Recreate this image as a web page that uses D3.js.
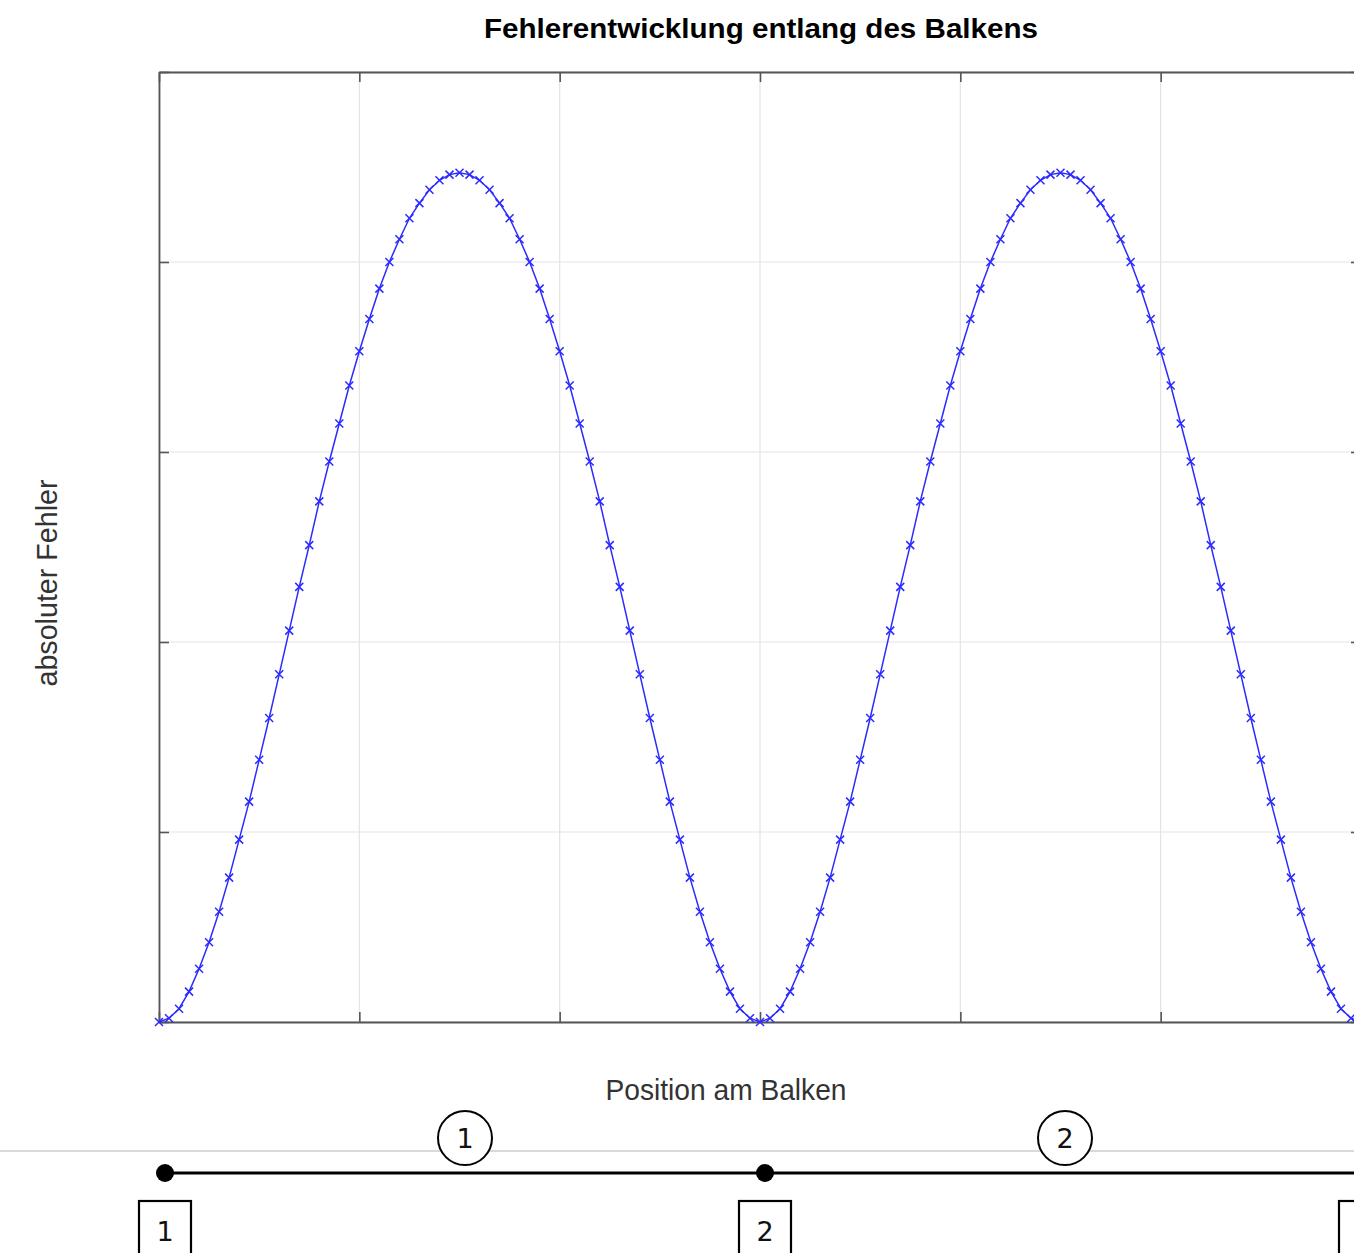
<!DOCTYPE html>
<html>
<head>
<meta charset="utf-8">
<script src="https://cdn.jsdelivr.net/npm/d3@7"></script>
<style>
  html, body { margin: 0; padding: 0; background: #fff; }
  svg { display: block; }
</style>
</head>
<body>
<svg id="chart"></svg>
<script>
// values (y units = grid steps, no tick labels shown)
const sampleStep = 0.05;
const errorElement1 = [
  0, 0.02, 0.07, 0.16, 0.28, 0.42, 0.58, 0.76, 0.96, 1.16,
  1.38, 1.60, 1.83, 2.06, 2.29, 2.51, 2.74, 2.95, 3.15, 3.35,
  3.53, 3.70, 3.86, 4.00, 4.12, 4.23, 4.31, 4.38, 4.43, 4.46,
  4.47, 4.46, 4.43, 4.38, 4.31, 4.23, 4.12, 4.00, 3.86, 3.70,
  3.53, 3.35, 3.15, 2.95, 2.74, 2.51, 2.29, 2.06, 1.83, 1.60,
  1.38, 1.16, 0.96, 0.76, 0.58, 0.42, 0.28, 0.16, 0.07, 0.02
];
const errorElement2 = [
  0, 0.02, 0.07, 0.16, 0.28, 0.42, 0.58, 0.76, 0.96, 1.16,
  1.38, 1.60, 1.83, 2.06, 2.29, 2.51, 2.74, 2.95, 3.15, 3.35,
  3.53, 3.70, 3.86, 4.00, 4.12, 4.23, 4.31, 4.38, 4.43, 4.46,
  4.47, 4.46, 4.43, 4.38, 4.31, 4.23, 4.12, 4.00, 3.86, 3.70,
  3.53, 3.35, 3.15, 2.95, 2.74, 2.51, 2.29, 2.06, 1.83, 1.60,
  1.38, 1.16, 0.96, 0.76, 0.58, 0.42, 0.28, 0.16, 0.07, 0.02, 0
];
const xTicks = [0, 1, 2, 3, 4, 5, 6];
const yTicks = [0, 1, 2, 3, 4, 5];
const nodePositions = [0, 3, 6];
const nodeLabels = ['1', '2']; // third node box is cut off at the edge
const elementLabels = ['1', '2'];

const W = 1354, H = 1253;
const plot = {left: 159, right: 1361, top: 72, bottom: 1022};

const points = errorElement1.concat(errorElement2)
  .map((v, i) => ({x: i * sampleStep, y: v}));

const svg = d3.select('#chart').attr('width', W).attr('height', H);

const x = d3.scaleLinear().domain([0, 6]).range([plot.left, plot.right]);
const y = d3.scaleLinear().domain([0, 5]).range([plot.bottom, plot.top]);

// grid
svg.append('g').selectAll('line').data(xTicks).join('line')
  .attr('x1', d => x(d)).attr('x2', d => x(d))
  .attr('y1', plot.top).attr('y2', plot.bottom)
  .attr('stroke', '#e3e3e3').attr('stroke-width', 1.2);
svg.append('g').selectAll('line').data(yTicks).join('line')
  .attr('x1', plot.left).attr('x2', plot.right)
  .attr('y1', d => y(d)).attr('y2', d => y(d))
  .attr('stroke', '#e3e3e3').attr('stroke-width', 1.2);

// box axes with inward ticks, no labels
const axisStyle = g => {
  g.selectAll('path.domain').attr('stroke', '#555').attr('stroke-width', 1.8);
  g.selectAll('.tick line').attr('stroke', '#555').attr('stroke-width', 1.6);
  g.selectAll('.tick text').remove();
};
svg.append('g').attr('transform', `translate(0,${plot.bottom})`)
  .call(d3.axisBottom(x).tickValues(xTicks).tickSize(-10).tickSizeOuter(0)).call(axisStyle);
svg.append('g').attr('transform', `translate(0,${plot.top})`)
  .call(d3.axisTop(x).tickValues(xTicks).tickSize(-10).tickSizeOuter(0)).call(axisStyle);
svg.append('g').attr('transform', `translate(${plot.left},0)`)
  .call(d3.axisLeft(y).tickValues(yTicks).tickSize(-10).tickSizeOuter(0)).call(axisStyle);
svg.append('g').attr('transform', `translate(${plot.right},0)`)
  .call(d3.axisRight(y).tickValues(yTicks).tickSize(-10).tickSizeOuter(0)).call(axisStyle);

// error curve
const line = d3.line().x(d => x(d.x)).y(d => y(d.y));
svg.append('path').datum(points)
  .attr('d', line)
  .attr('fill', 'none')
  .attr('stroke', '#2b2bff')
  .attr('stroke-width', 1.5);

const m = 4;
svg.append('g').selectAll('path').data(points).join('path')
  .attr('d', d => {
    const cx = x(d.x), cy = y(d.y);
    return `M${cx - m},${cy - m}L${cx + m},${cy + m}M${cx - m},${cy + m}L${cx + m},${cy - m}`;
  })
  .attr('stroke', '#2b2bff')
  .attr('stroke-width', 1.5)
  .attr('fill', 'none');

// texts
svg.append('text')
  .attr('x', 761).attr('y', 38)
  .attr('text-anchor', 'middle')
  .attr('textLength', 554).attr('lengthAdjust', 'spacingAndGlyphs')
  .style('font', 'bold 27px "Liberation Sans", Arial, sans-serif')
  .attr('fill', '#000')
  .text('Fehlerentwicklung entlang des Balkens');

svg.append('text')
  .attr('x', 726).attr('y', 1100)
  .attr('text-anchor', 'middle')
  .attr('textLength', 241).attr('lengthAdjust', 'spacingAndGlyphs')
  .style('font', '30px "Liberation Sans", Arial, sans-serif')
  .attr('fill', '#333')
  .text('Position am Balken');

svg.append('text')
  .attr('transform', 'translate(57,583) rotate(-90)')
  .attr('text-anchor', 'middle')
  .attr('textLength', 207).attr('lengthAdjust', 'spacingAndGlyphs')
  .style('font', '30px "Liberation Sans", Arial, sans-serif')
  .attr('fill', '#333')
  .text('absoluter Fehler');

// beam sketch below the plot
const bx = d3.scaleLinear().domain([0, 6]).range([165, 1365]);
const beamY = 1173;

svg.append('line')
  .attr('x1', 0).attr('x2', W).attr('y1', 1151).attr('y2', 1151)
  .attr('stroke', '#d9d9d9').attr('stroke-width', 2);

svg.append('line')
  .attr('x1', bx(nodePositions[0])).attr('x2', bx(nodePositions[nodePositions.length - 1]))
  .attr('y1', beamY).attr('y2', beamY)
  .attr('stroke', '#000').attr('stroke-width', 3);

svg.append('g').selectAll('circle').data(nodePositions).join('circle')
  .attr('cx', d => bx(d)).attr('cy', beamY).attr('r', 9).attr('fill', '#000');

const elements = elementLabels.map((l, i) => ({
  label: l,
  pos: (nodePositions[i] + nodePositions[i + 1]) / 2
}));
const el = svg.append('g').selectAll('g').data(elements).join('g')
  .attr('transform', d => `translate(${bx(d.pos)},1138)`);
el.append('ellipse').attr('rx', 27).attr('ry', 27)
  .attr('fill', '#fff').attr('stroke', '#000').attr('stroke-width', 2);
el.append('text').attr('y', 10).attr('text-anchor', 'middle')
  .style('font', '27px "DejaVu Sans", sans-serif').attr('fill', '#111')
  .text(d => d.label);

const nd = svg.append('g').selectAll('g').data(nodePositions).join('g')
  .attr('transform', d => `translate(${bx(d)},1201)`);
nd.append('rect').attr('x', -26).attr('y', 0).attr('width', 52).attr('height', 70)
  .attr('fill', '#fff').attr('stroke', '#000').attr('stroke-width', 2.2);
nd.filter((d, i) => i < nodeLabels.length)
  .append('text').attr('x', 0).attr('y', 40).attr('text-anchor', 'middle')
  .style('font', '27px "DejaVu Sans", sans-serif').attr('fill', '#111')
  .text((d, i) => nodeLabels[i]);
</script>
</body>
</html>
